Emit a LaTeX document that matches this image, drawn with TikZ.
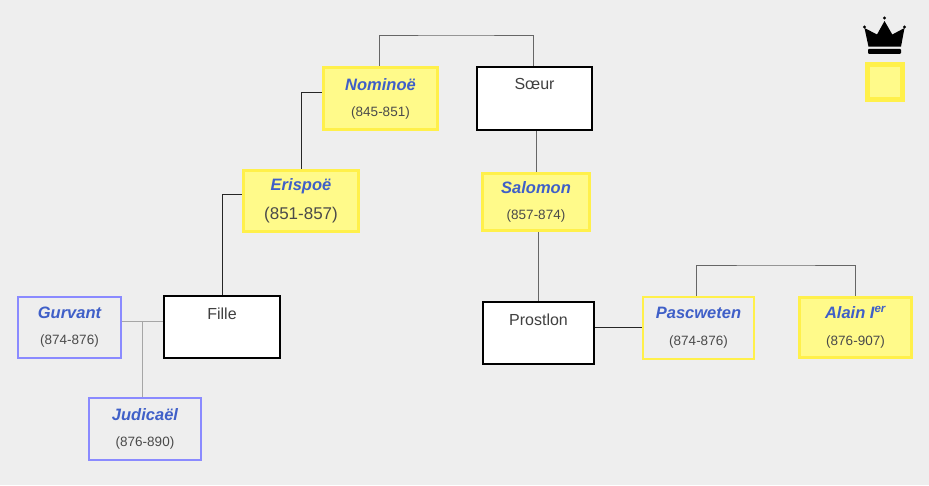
\documentclass[tikz,border=0pt]{standalone}
\usepackage{fontspec}
\setmainfont{Liberation Sans}
\usepackage{tikz}
\usetikzlibrary{positioning,calc}
\definecolor{pagegrey}{HTML}{EEEEEE}
\definecolor{kingyellow}{HTML}{FFF04A}
\definecolor{kingfill}{HTML}{FFFA8A}
\definecolor{namecol}{HTML}{3F5FC8}
\definecolor{datecol}{HTML}{4A4A4A}
\definecolor{claimblue}{HTML}{8A8AFF}
\tikzset{
    kingbox/.style={draw=kingyellow,fill=kingfill,line width=2.8pt,align=center,inner sep=0pt},
    rivalbox/.style={draw=kingyellow,line width=1.8pt,align=center,inner sep=0pt},
    claimbox/.style={draw=claimblue,line width=1.8pt,align=center,inner sep=0pt},
    kinbox/.style={draw=black,fill=white,line width=2pt,align=center,inner sep=0pt,font=\fontsize{16}{18}\selectfont,text=black!75},
    link/.style={draw=black!60,line width=1pt},
    lightlink/.style={draw=black!35,line width=1pt},
}
\newcommand{\kingname}[1]{{\fontsize{16.5}{18}\selectfont\bfseries\itshape\color{namecol}#1}}
\newcommand{\reign}[1]{{\fontsize{13.5}{16}\selectfont\color{datecol}#1}}
\begin{document}
\begin{tikzpicture}[x=1pt,y=-1pt]
    \fill[pagegrey] (0,0) rectangle (929,485);
    \useasboundingbox (0,0) rectangle (929,485);
    % people
    \node[kingbox,minimum width=114.5,minimum height=62.5] (nominoe) at (380.5,98.5) {\kingname{Nominoë}\\[14pt]\reign{(845-851)}};
    \node[kinbox,minimum width=115.5,minimum height=63] (soeur) at (534.5,98.5) {Sœur\\[12pt]~};
    \node[kingbox,minimum width=115.5,minimum height=61.5] (erispoe) at (301,201) {\kingname{Erispoë}\\[12pt]{\fontsize{17}{19}\selectfont\color{datecol}(851-857)}};
    \node[kingbox,minimum width=107.5,minimum height=57.5] (salomon) at (536,202) {\kingname{Salomon}\\[14pt]\reign{(857-874)}};
    \node[kinbox,minimum width=116,minimum height=62.5] (fille) at (222,327) {Fille\\[8pt]~};
    \node[kinbox,minimum width=111,minimum height=62.5] (prostlon) at (538.5,333) {Prostlon\\[8pt]~};
    \node[claimbox,minimum width=103.5,minimum height=61.5] (gurvant) at (69.5,327.5) {\kingname{Gurvant}\\[14pt]\reign{(874-876)}};
    \node[claimbox,minimum width=112.5,minimum height=62.5] (judicael) at (145,429) {\kingname{Judicaël}\\[14pt]\reign{(876-890)}};
    \node[rivalbox,minimum width=111.5,minimum height=62.5] (pascweten) at (698.5,328) {\kingname{Pascweten}\\[15pt]\reign{(874-876)}};
    \node[kingbox,minimum width=112.5,minimum height=60.5] (alain) at (855.5,327.5) {\kingname{Alain I\textsuperscript{er}}\\[15pt]\reign{(876-907)}};
    % legend
    \node[draw=kingyellow,fill=kingfill,line width=4.5pt,minimum width=35,minimum height=35,inner sep=0pt] (legend) at (885,82) {};
    \fill[black] (864.5,28) -- (868.5,46.7) -- (901,46.7) -- (904.5,28) -- (892.3,34.5) -- (884.5,21) -- (877,34.5) -- cycle;
    \fill[black] (884.5,18) circle (1.7pt) (864.5,27) circle (1.7pt) (904.5,27) circle (1.7pt);
    \fill[black,rounded corners=1pt] (868,48.8) rectangle (901,53.8);
    % links
    \coordinate (topjoin) at (456,35);
    \coordinate (sonsjoin) at (776,265);
    \coordinate (fillejoin) at (142,321);
    \draw[link] ([xshift=-1pt]nominoe.north) |- (topjoin) -| ([xshift=-1pt]soeur.north);
    \draw[link,black!85] ([yshift=6.5pt]nominoe.west) -| (erispoe.north);
    \draw[link,black!85] ([yshift=7pt]erispoe.west) -| (fille.north);
    \draw[link] (soeur.south -| salomon.north) -- (salomon.north);
    \draw[link] (salomon.south -| prostlon.north) -- (prostlon.north);
    \draw[link,black!85] ([yshift=6pt]prostlon.east) -- ([yshift=6pt]prostlon.east -| pascweten.west);
    \draw[link] ([xshift=-2pt]pascweten.north) |- (sonsjoin) -| (alain.north);
    \draw[lightlink] (fillejoin -| gurvant.east) -- (fillejoin -| fille.west);
    \draw[lightlink] (fillejoin) -- (fillejoin |- judicael.north);
\end{tikzpicture}
\end{document}
